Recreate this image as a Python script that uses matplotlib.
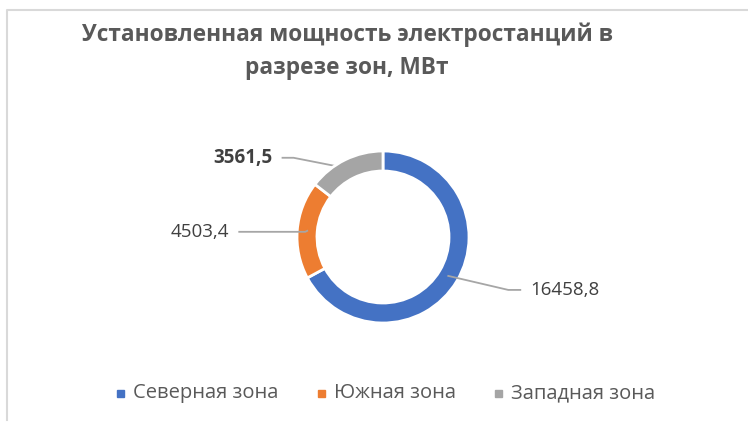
import numpy as np
import matplotlib.pyplot as plt
from matplotlib.patches import Rectangle

# data
zones = ['Северная зона', 'Южная зона', 'Западная зона']
values = [16458.8, 4503.4, 3561.5]
labels = ['16458,8', '4503,4', '3561,5']
colors = ['#4472C4', '#ED7D31', '#A5A5A5']

W, H = 748, 425
fig = plt.figure(figsize=(W / 100, H / 100), dpi=100)
ax = fig.add_axes([0, 0, 1, 1])

cx, cy, r, ring = 383, H - 237, 86, 20
wedges, _ = ax.pie(values, colors=colors, center=(cx, cy), radius=r,
                   startangle=90, counterclock=False,
                   wedgeprops=dict(width=ring, edgecolor='white', linewidth=2))
ax.set_xlim(0, W)
ax.set_ylim(0, H)
ax.set_aspect('equal')
ax.axis('off')

# chart frame (partly cropped)
ax.plot([7, 7, W], [5, H - 10, H - 10], color='#D9D9D9', lw=1.5, clip_on=False)

font = 'Open Sans'
fig.text(0.464, 1 - 35 / H, 'Установленная мощность электростанций в',
         ha='center', va='center', fontsize=16.3, fontweight='bold',
         color='#595959', family=font)
fig.text(0.464, 1 - 68 / H, 'разрезе зон, МВт',
         ha='center', va='center', fontsize=16.3, fontweight='bold',
         color='#595959', family=font)

# data labels with leader lines
offsets = [  # elbow (dx, dy), horizontal end dx, text ha, bold, under ring
    ((60, -14), 12, 'left', False, False),
    ((-2, -1), -66, 'right', False, False),
    ((-56, 11), -11, 'right', True, True),
]
rm = r - ring / 2
for w, lab, (elb, end, ha, bold, under) in zip(wedges, labels, offsets):
    ang = np.deg2rad((w.theta1 + w.theta2) / 2)
    x0, y0 = cx + rm * np.cos(ang), cy + rm * np.sin(ang)
    x1, y1 = x0 + elb[0], y0 + elb[1]
    x2 = x1 + end
    ax.plot([x0, x1, x2], [y0, y1, y1], color='#A6A6A6', lw=1.3,
            zorder=0.5 if under else 3)
    tx = x2 + (10 if ha == 'left' else -10)
    ax.text(tx, y1, lab, ha=ha, va='center', fontsize=13.5,
            fontweight='bold' if bold else 'normal', color='#404040', family=font)

# legend
leg_x = [117, 318, 495]
for x, z, c in zip(leg_x, zones, colors):
    ax.add_patch(Rectangle((x, H - 397), 7, 7, color=c))
    ax.text(x + 16, H - 393, z, ha='left', va='center', fontsize=14.5,
            color='#595959', family=font)

fig.savefig('out.png', dpi=100)
